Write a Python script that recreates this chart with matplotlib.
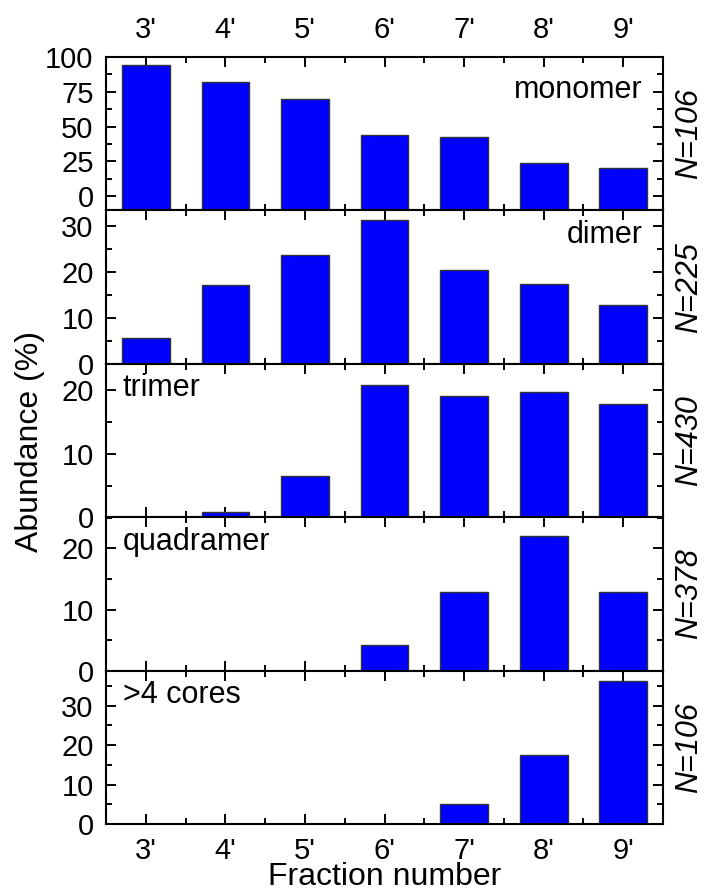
import numpy as np
import matplotlib
matplotlib.use("Agg")
import matplotlib.pyplot as plt
from matplotlib.ticker import MultipleLocator

plt.rcParams['font.family'] = ['Liberation Sans', 'DejaVu Sans']
plt.rcParams['font.size'] = 21

fractions = [3, 4, 5, 6, 7, 8, 9]
fraction_labels = ["3'", "4'", "5'", "6'", "7'", "8'", "9'"]

monomer = [93.9, 81.9, 69.6, 43.8, 42.4, 23.6, 20.3]
dimer = [5.6, 17.2, 23.7, 31.2, 20.4, 17.4, 12.7]
trimer = [0.0, 0.8, 6.5, 20.9, 19.2, 19.7, 17.9]
quadramer = [0.0, 0.0, 0.0, 4.2, 12.8, 22.1, 12.8]
larger = [0.0, 0.0, 0.0, 0.0, 5.2, 17.5, 36.3]

series = [monomer, dimer, trimer, quadramer, larger]
names = ["monomer", "dimer", "trimer", "quadramer", ">4 cores"]
counts = ["106", "225", "430", "378", "106"]

# per panel: y limits, major step, label corner
ylims = [(-10.2, 100), (0, 33.3), (0, 24.2), (0, 25.1), (0, 38.9)]
steps = [25, 10, 10, 10, 10]
corner = ["right", "right", "left", "left", "left"]

fig, axes = plt.subplots(5, 1, sharex=True, figsize=(7.04, 8.93), dpi=100,
                         gridspec_kw={'hspace': 0})
fig.subplots_adjust(left=0.1506, right=0.9418, top=0.9362, bottom=0.0772)

for i, ax in enumerate(axes):
    lo, hi = ylims[i]
    vals = np.array(series[i])
    ax.bar(fractions, vals - lo, bottom=lo, width=0.6, color='#0000ff',
           edgecolor='#333333', linewidth=1.0, zorder=2)
    ax.set_xlim(2.5, 9.5)
    ax.set_ylim(lo, hi)
    ax.yaxis.set_major_locator(MultipleLocator(steps[i]))
    ax.yaxis.set_minor_locator(MultipleLocator(steps[i] / 2))
    ax.set_xticks(fractions)
    ax.set_xticklabels(fraction_labels)
    ax.xaxis.set_minor_locator(MultipleLocator(0.5))
    ax.tick_params(which='both', direction='in', top=True, right=True,
                   width=1.4, labelbottom=False, labeltop=False)
    ax.tick_params(which='major', length=7)
    ax.tick_params(which='minor', length=4)
    ax.tick_params(axis='y', which='major', pad=9)
    ax.tick_params(axis='x', which='major', pad=9)
    for sp in ax.spines.values():
        sp.set_linewidth(1.5)
    if corner[i] == "right":
        ax.text(0.964, 0.786 if i == 0 else 0.84, names[i], transform=ax.transAxes,
                ha='right', va='center', fontsize=22)
    else:
        ax.text(0.03, 0.84, names[i], transform=ax.transAxes,
                ha='left', va='center', fontsize=22)
    ax.text(1.047, 0.5, f"N={counts[i]}", transform=ax.transAxes, rotation=90,
            ha='center', va='center', style='italic', fontsize=22)

axes[0].tick_params(labeltop=True)
axes[-1].tick_params(labelbottom=True)
fig.text(0.547, 1 - 885 / 893, "Fraction number", ha='center', va='baseline',
         fontsize=23)
fig.text(0.043, 0.506, "Abundance (%)", rotation=90, ha='center', va='center',
         fontsize=23)

fig.savefig("out.png", dpi=100)
